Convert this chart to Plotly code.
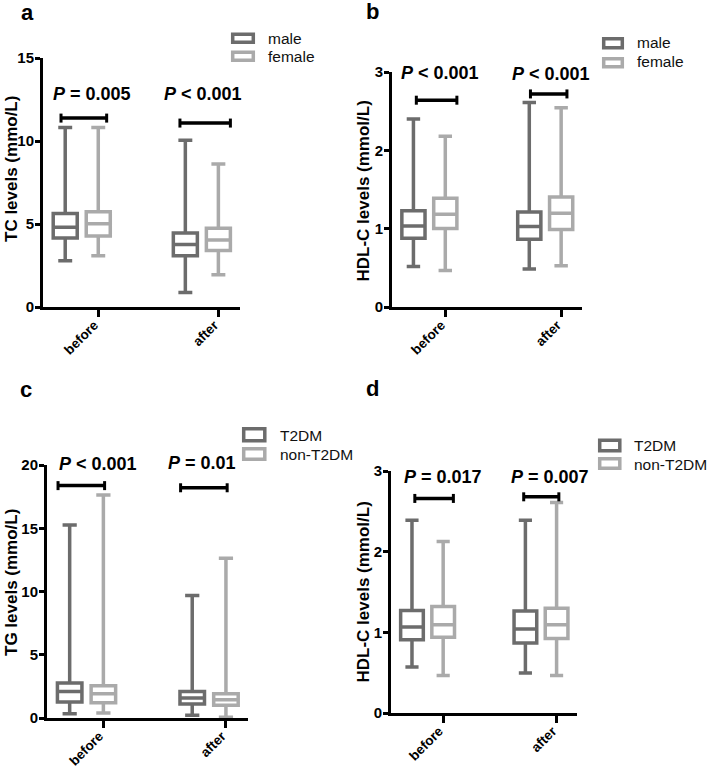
import plotly.graph_objects as go

# ---------------- data (min, q1, median, q3, max) ----------------
groups = ["before", "after"]

tc_male_before = [2.79, 4.16, 4.80, 5.64, 10.82]
tc_male_after = [0.88, 3.09, 3.76, 4.46, 10.04]
tc_female_before = [3.09, 4.28, 5.02, 5.74, 10.82]
tc_female_after = [1.95, 3.41, 4.04, 4.74, 8.61]

hdl_male_before = [0.518, 0.878, 1.035, 1.23, 2.40]
hdl_male_after = [0.484, 0.866, 1.027, 1.213, 2.61]
hdl_female_before = [0.467, 1.001, 1.184, 1.387, 2.18]
hdl_female_after = [0.526, 0.989, 1.196, 1.404, 2.545]

tg_t2dm_before = [0.34, 1.26, 2.10, 2.76, 15.26]
tg_t2dm_after = [0.21, 1.10, 1.58, 2.10, 9.68]
tg_non_before = [0.39, 1.21, 1.92, 2.55, 17.63]
tg_non_after = [0.05, 1.00, 1.45, 1.92, 12.63]

hdl2_t2dm_before = [0.57, 0.908, 1.065, 1.27, 2.39]
hdl2_t2dm_after = [0.495, 0.867, 1.04, 1.263, 2.39]
hdl2_non_before = [0.466, 0.94, 1.094, 1.32, 2.125]
hdl2_non_after = [0.466, 0.924, 1.094, 1.30, 2.61]

p_labels_a = ["P = 0.005", "P < 0.001"]
p_labels_b = ["P < 0.001", "P < 0.001"]
p_labels_c = ["P < 0.001", "P = 0.01"]
p_labels_d = ["P = 0.017", "P = 0.007"]

series_names_ab = ["male", "female"]
series_names_cd = ["T2DM", "non-T2DM"]

y_titles = ["TC levels (mmo/L)", "HDL-C levels (mmol/L)", "TG levels (mmo/L)", "HDL-C levels (mmol/L)"]
y_ticks_a = [0, 5, 10, 15]
y_ticks_b = [0, 1, 2, 3]
y_ticks_c = [0, 5, 10, 15, 20]
y_ticks_d = [0, 1, 2, 3]

# ---------------- styling ----------------
W, H = 709, 772
FONT = "Arial, 'Liberation Sans', Helvetica, sans-serif"
DARK = "#6c6c6c"
LIGHT = "#aaaaaa"
BOX_W = 0.2
OFFSETS = [-0.275, 0.0]


def px(x):
    return x / W


def py(y):
    return 1 - y / H


# ptext entries: (x offset from category, y value, extra pixel shift)
panels = [
    dict(sfx="", dom_x=(43, 240), dom_y=(58, 307), yr=[0, 15], ticks=y_ticks_a,
         data=[[tc_male_before, tc_male_after], [tc_female_before, tc_female_after]],
         names=series_names_ab, plabels=p_labels_a, title=y_titles[0], title_pos=(11, 169),
         brackets=[(-0.31, 0.07, 11.38), (-0.32, 0.10, 11.08)],
         ptext=[(-0.056, 12.85, 0), (-0.126, 12.85, 0)],
         legend=[(231, 32.5, 255, 44, 38.5), (231, 50.5, 255, 62, 56)], text_x=266,
         letter=("a", 27, 13)),
    dict(sfx="2", dom_x=(392, 582), dom_y=(72, 307), yr=[0, 3], ticks=y_ticks_b,
         data=[[hdl_male_before, hdl_male_after], [hdl_female_before, hdl_female_after]],
         names=series_names_ab, plabels=p_labels_b, title=y_titles[1], title_pos=(362.5, 191),
         brackets=[(-0.25, 0.10, 2.64), (-0.265, 0.05, 2.72)],
         ptext=[(-0.05, 2.9, 7), (-0.085, 2.9, 6)],
         legend=[(602, 37, 624, 49.5, 43), (602, 57, 624, 68.5, 62)], text_x=635,
         letter=("b", 372.5, 11)),
    dict(sfx="3", dom_x=(47, 248), dom_y=(465, 718), yr=[0, 20], ticks=y_ticks_c,
         data=[[tg_t2dm_before, tg_t2dm_after], [tg_non_before, tg_non_after]],
         names=series_names_cd, plabels=p_labels_c, title=y_titles[2], title_pos=(11, 583),
         brackets=[(-0.37, 0.01, 18.37), (-0.37, 0.01, 18.2)],
         ptext=[(-0.045, 19.5, 7), (-0.195, 19.5, 8)],
         legend=[(242, 427, 266.5, 442.5, 435), (242, 447, 266.5, 461, 454)], text_x=278,
         letter=("c", 26.5, 389)),
    dict(sfx="4", dom_x=(391, 577), dom_y=(471, 713), yr=[0, 3], ticks=y_ticks_d,
         data=[[hdl2_t2dm_before, hdl2_t2dm_after], [hdl2_non_before, hdl2_non_after]],
         names=series_names_cd, plabels=p_labels_d, title=y_titles[3], title_pos=(362.5, 592),
         brackets=[(-0.25, 0.09, 2.66), (-0.29, 0.02, 2.68)],
         ptext=[(0.0, 2.92, 0), (-0.06, 2.92, 0)],
         legend=[(598, 438.5, 621.5, 452.5, 445.5), (598, 457, 621.5, 470, 464)], text_x=632,
         letter=("d", 373, 388)),
]

fig = go.Figure()
shapes = []
annotations = []
layout = {}
colors = [DARK, LIGHT]

for p in panels:
    xa = "x" + p["sfx"]
    ya = "y" + p["sfx"]
    for si, series in enumerate(p["data"]):
        xs = [gi + OFFSETS[si] for gi in range(len(groups))]
        fig.add_trace(go.Box(
            x=xs,
            lowerfence=[s[0] for s in series],
            q1=[s[1] for s in series],
            median=[s[2] for s in series],
            q3=[s[3] for s in series],
            upperfence=[s[4] for s in series],
            width=BOX_W, whiskerwidth=0.58,
            line=dict(color=colors[si], width=3.5),
            fillcolor="rgba(255,255,255,0)",
            boxpoints=False, name=p["names"][si], showlegend=False,
            xaxis=xa, yaxis=ya, hoverinfo="skip",
        ))
    layout["xaxis" + p["sfx"]] = dict(
        domain=[px(p["dom_x"][0]), px(p["dom_x"][1])], range=[-0.46, 1.18],
        anchor=ya, tickvals=list(range(len(groups))), ticktext=groups,
        tickangle=-45, ticks="outside", ticklen=7, tickwidth=3, tickcolor="black",
        ticklabelshift=-4, ticklabelstandoff=-5, automargin=False,
        showline=True, linewidth=3, linecolor="black", showgrid=False, zeroline=False,
        tickfont=dict(family=FONT, size=13.5, color="black", weight="bold"),
        fixedrange=True,
    )
    layout["yaxis" + p["sfx"]] = dict(
        domain=[py(p["dom_y"][1]), py(p["dom_y"][0])], range=p["yr"],
        anchor=xa, tickvals=p["ticks"], ticks="outside", ticklen=5, tickwidth=2.5,
        tickcolor="black", showline=True, linewidth=3, linecolor="black",
        showgrid=False, zeroline=False, automargin=False, ticklabelstandoff=-2,
        tickfont=dict(family=FONT, size=15, color="black", weight="bold"),
        fixedrange=True,
    )
    # y-axis title
    tx, ty = p["title_pos"]
    annotations.append(dict(xref="paper", yref="paper", x=px(tx), y=py(ty), text="<b>" + p["title"] + "</b>",
                            textangle=-90, showarrow=False, xanchor="center", yanchor="middle",
                            font=dict(family=FONT, size=17, color="black")))
    # significance brackets
    for gi, (x0, x1, yb) in enumerate(p["brackets"]):
        shapes.append(dict(type="line", xref=xa, yref=ya, x0=gi + x0, x1=gi + x1, y0=yb, y1=yb,
                           line=dict(color="black", width=3.5)))
        for xe in (gi + x0, gi + x1):
            shapes.append(dict(type="line", xref=xa, yref=ya, ysizemode="pixel",
                               yanchor=yb, x0=xe, x1=xe, y0=-4.5, y1=4.5,
                               line=dict(color="black", width=3)))
    for gi, ((xt, yt, ys), lab) in enumerate(zip(p["ptext"], p["plabels"])):
        txt = "<b><i>P</i>" + lab[1:] + "</b>"
        annotations.append(dict(xref=xa, yref=ya, x=gi + xt, y=yt, yshift=ys, text=txt,
                                showarrow=False, xanchor="center", yanchor="middle",
                                font=dict(family=FONT, size=18, color="black")))
    # legend
    for si, (lx0, ly0, lx1, ly1, ty2) in enumerate(p["legend"]):
        shapes.append(dict(type="rect", xref="paper", yref="paper",
                           x0=px(lx0 + 1.7), x1=px(lx1 - 1.7), y0=py(ly1 - 1.7), y1=py(ly0 + 1.7),
                           line=dict(color=colors[si], width=3.5), fillcolor="white"))
        annotations.append(dict(xref="paper", yref="paper", x=px(p["text_x"]), y=py(ty2),
                                text=p["names"][si], showarrow=False, xanchor="left",
                                yanchor="middle",
                                font=dict(family=FONT, size=15.5, color="#111111")))
    letter, lx, ly = p["letter"]
    annotations.append(dict(xref="paper", yref="paper", x=px(lx), y=py(ly), text="<b>" + letter + "</b>",
                            showarrow=False, xanchor="center", yanchor="middle",
                            font=dict(family=FONT, size=22, color="black")))

fig.update_layout(
    width=W, height=H, margin=dict(l=0, r=0, t=0, b=0, autoexpand=False),
    paper_bgcolor="white", plot_bgcolor="white",
    shapes=shapes, annotations=annotations, showlegend=False,
    font=dict(family=FONT, color="black"),
    **layout,
)

fig.write_html("out.html", config={"displayModeBar": False},
               post_script="document.body.style.margin='0';document.body.style.padding='0';")
